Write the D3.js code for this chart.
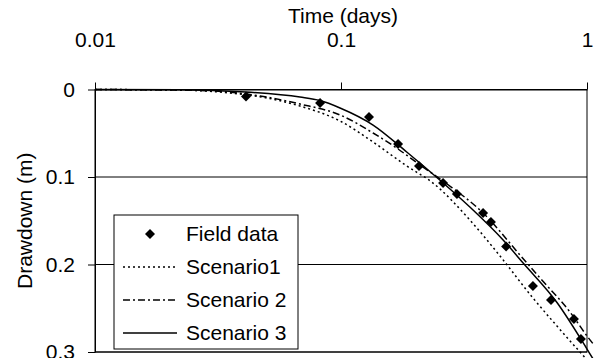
<!DOCTYPE html>
<meta charset="utf-8">
<script src="https://d3js.org/d3.v7.js"></script>
<style>
  body { margin: 0; background: #fff; }
  text { font-family: "Liberation Sans", Arial, sans-serif; fill: #000; }
</style>
<svg id="chart" width="594" height="358"></svg>
<script>

// Field data: time (days) and drawdown (m)
const fieldTime = [0.0411, 0.0822, 0.130, 0.1706, 0.2075, 0.260, 0.296, 0.378, 0.407, 0.469, 0.603, 0.714, 0.885, 0.945];
const fieldDrawdown = [0.008, 0.0154, 0.0314, 0.0623, 0.0874, 0.1069, 0.1194, 0.1411, 0.1514, 0.1794, 0.2246, 0.2406, 0.2623, 0.2851];

// Scenario 1 (dotted)
const s1Time = [0.01, 0.0222, 0.0354, 0.05, 0.0681, 0.0991, 0.135, 0.185, 0.2366, 0.334, 0.443, 0.603, 0.755, 0.936, 1.068];
const s1Drawdown = [0, 0.0006, 0.004, 0.0097, 0.0189, 0.036, 0.06, 0.0874, 0.1069, 0.1491, 0.1903, 0.2383, 0.2703, 0.300, 0.318];

// Scenario 2 (dash-dot)
const s2Time = [0.01, 0.0267, 0.0469, 0.0681, 0.0991, 0.135, 0.1706, 0.2095, 0.270, 0.378, 0.534, 0.644, 0.853, 1.0, 1.068];
const s2Drawdown = [0, 0.0011, 0.0074, 0.0166, 0.0291, 0.0497, 0.068, 0.0863, 0.108, 0.1411, 0.1891, 0.2154, 0.2543, 0.2817, 0.292];

// Scenario 3 (solid)
const s3Time = [0.01, 0.0222, 0.0411, 0.0681, 0.0822, 0.0991, 0.135, 0.185, 0.252, 0.334, 0.456, 0.550, 0.755, 1.0, 1.068];
const s3Drawdown = [0, 0.0002, 0.0029, 0.0086, 0.0126, 0.0211, 0.0406, 0.0714, 0.1034, 0.1343, 0.172, 0.1983, 0.2434, 0.2966, 0.3097];

const xTicks = [0.01, 0.1, 1];
const xTickLabels = ["0.01", "0.1", "1"];
const yTicks = [0, 0.1, 0.2, 0.3];
const yTickLabels = ["0", "0.1", "0.2", "0.3"];
const seriesNames = ["Field data", "Scenario1", "Scenario 2", "Scenario 3"];

const svg = d3.select("#chart");
const plotLeft = 95, plotRight = 587, plotTop = 89.5, plotBottom = 352;
const fontSize = 21;

const x = d3.scaleLog().domain([0.01, 1]).range([plotLeft, plotRight]);
const y = d3.scaleLinear().domain([0, 0.3]).range([plotTop, plotBottom]);

// gridlines
svg.append("g")
  .selectAll("line")
  .data(yTicks)
  .join("line")
    .attr("x1", plotLeft).attr("x2", plotRight)
    .attr("y1", d => y(d)).attr("y2", d => y(d))
    .attr("stroke", "#000").attr("stroke-width", 1);

// plot border
svg.append("rect")
  .attr("x", plotLeft).attr("y", plotTop)
  .attr("width", plotRight - plotLeft).attr("height", plotBottom - plotTop)
  .attr("fill", "none").attr("stroke", "#000").attr("stroke-width", 1);

// axes
const xAxis = svg.append("g")
  .attr("transform", `translate(0,${plotTop})`)
  .call(d3.axisTop(x).tickValues(xTicks).tickFormat((d, i) => xTickLabels[i]).tickSize(7).tickSizeOuter(0).tickPadding(36));
const yAxis = svg.append("g")
  .attr("transform", `translate(${plotLeft},0)`)
  .call(d3.axisLeft(y).tickValues(yTicks).tickFormat((d, i) => yTickLabels[i]).tickSize(7).tickSizeOuter(0).tickPadding(13));
[xAxis, yAxis].forEach(g => {
  g.select(".domain").attr("stroke", "#000");
  g.selectAll(".tick line").attr("stroke", "#000");
  g.selectAll("text").style("font-size", fontSize + "px").attr("font-family", null);
});

// scenario curves
const line = d3.line()
  .x(d => x(d[0]))
  .y(d => y(d[1]))
  .curve(d3.curveMonotoneX);

const scenarios = [
  { t: s1Time, d: s1Drawdown, dash: "2,3" },
  { t: s2Time, d: s2Drawdown, dash: "7,3,2,3" },
  { t: s3Time, d: s3Drawdown, dash: null }
];

svg.append("g")
  .selectAll("path")
  .data(scenarios)
  .join("path")
    .attr("d", s => line(s.t.map((t, i) => [t, s.d[i]])))
    .attr("fill", "none")
    .attr("stroke", "#000")
    .attr("stroke-width", 1.5)
    .attr("stroke-dasharray", s => s.dash);

// field data markers
const diamond = d3.symbol().type(d3.symbolSquare).size(50);
svg.append("g")
  .selectAll("path")
  .data(fieldTime.map((t, i) => [t, fieldDrawdown[i]]))
  .join("path")
    .attr("d", diamond)
    .attr("transform", d => `translate(${x(d[0])},${y(d[1])}) rotate(45)`)
    .attr("fill", "#000");

// titles
svg.append("text")
  .attr("x", 343).attr("y", 23)
  .attr("text-anchor", "middle")
  .style("font-size", fontSize + "px")
  .text("Time (days)");

svg.append("text")
  .attr("transform", `translate(32,${(plotTop + plotBottom) / 2}) rotate(-90)`)
  .attr("text-anchor", "middle")
  .style("font-size", fontSize + "px")
  .text("Drawdown (m)");

// legend
const legend = svg.append("g");
legend.append("rect")
  .attr("x", 114).attr("y", 215)
  .attr("width", 184).attr("height", 134)
  .attr("fill", "#fff").attr("stroke", "#000").attr("stroke-width", 1);

const rowY = i => 234 + i * 33;
legend.append("path")
  .attr("d", diamond)
  .attr("transform", `translate(150,${rowY(0)}) rotate(45)`)
  .attr("fill", "#000");

legend.selectAll("line")
  .data(scenarios)
  .join("line")
    .attr("x1", 123).attr("x2", 177)
    .attr("y1", (d, i) => rowY(i + 1)).attr("y2", (d, i) => rowY(i + 1))
    .attr("stroke", "#000")
    .attr("stroke-width", 1.5)
    .attr("stroke-dasharray", d => d.dash);

legend.selectAll("text")
  .data(seriesNames)
  .join("text")
    .attr("x", 186)
    .attr("y", (d, i) => rowY(i))
    .attr("dy", "0.35em")
    .style("font-size", fontSize + "px")
    .text(d => d);

</script>
